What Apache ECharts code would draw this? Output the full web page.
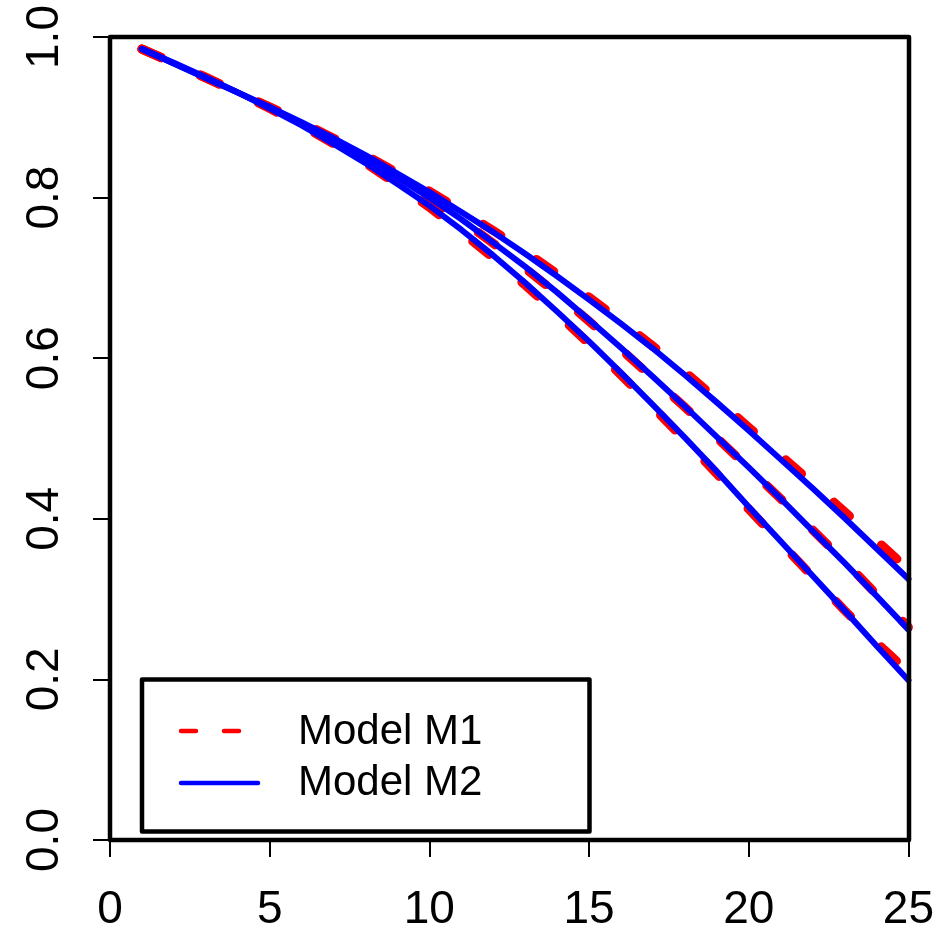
<!DOCTYPE html>
<html><head><meta charset="utf-8">
<script src="https://cdn.jsdelivr.net/npm/echarts@6/dist/echarts.min.js"></script>
<style>html,body{margin:0;padding:0;background:#fff}#c{width:937px;height:941px}</style>
</head><body><div id="c"></div>
<script>
// ---- data ----
const timePoints = [1,2,3,4,5,6,7,8,9,10,11,12,13,14,15,16,17,18,19,20,21,22,23,24,25];
const m1Top = [0.985,0.967,0.949,0.931,0.913,0.894,0.874,0.853,0.831,0.808,0.784,0.759,0.733,0.705,0.676,0.646,0.615,0.583,0.549,0.514,0.479,0.444,0.409,0.373,0.337];
const m1Mid = [0.985,0.967,0.949,0.931,0.912,0.892,0.871,0.849,0.825,0.799,0.772,0.743,0.712,0.680,0.646,0.611,0.575,0.539,0.501,0.463,0.425,0.386,0.347,0.306,0.265];
const m1Bot = [0.985,0.968,0.950,0.931,0.911,0.890,0.867,0.843,0.816,0.788,0.757,0.725,0.691,0.655,0.618,0.579,0.539,0.498,0.456,0.412,0.370,0.328,0.286,0.246,0.209];
const m2Top = [0.985,0.967,0.949,0.931,0.913,0.894,0.874,0.853,0.830,0.807,0.782,0.757,0.730,0.702,0.673,0.643,0.612,0.579,0.545,0.510,0.474,0.438,0.401,0.363,0.325];
const m2Mid = [0.985,0.967,0.949,0.931,0.912,0.892,0.871,0.849,0.825,0.800,0.773,0.744,0.714,0.682,0.648,0.613,0.577,0.540,0.502,0.464,0.425,0.385,0.345,0.304,0.262];
const m2Bot = [0.985,0.968,0.950,0.931,0.911,0.890,0.867,0.843,0.817,0.790,0.760,0.728,0.694,0.658,0.621,0.582,0.542,0.501,0.459,0.415,0.372,0.329,0.286,0.242,0.199];
const xTicks = [0,5,10,15,20,25];
const yTicks = [0.0,0.2,0.4,0.6,0.8,1.0];
const legendNames = ['Model M1','Model M2'];

// ---- layout ----
const W = 937, H = 941;
const G = {left:110, right:28, top:37, bottom:101};
const FONT = 'Liberation Sans, Arial, Helvetica, sans-serif';
const RED = '#ff0000', BLUE = '#0000ff';

function pairs(ys){ return timePoints.map((t,i)=>[t, ys[i]]); }

function m1Series(ys){
  return {type:'line', name:legendNames[0], data:pairs(ys), symbol:'none', smooth:false, clip:false,
    lineStyle:{color:RED, width:9, type:[21,43], cap:'round', join:'round'}, z:2};
}
function m2Series(ys){
  return {type:'line', name:legendNames[1], data:pairs(ys), symbol:'none', smooth:false, clip:false,
    lineStyle:{color:BLUE, width:6, type:'solid', cap:'round', join:'round'}, z:3};
}

const chart = echarts.init(document.getElementById('c'), null, {renderer:'canvas', width:W, height:H});
const plotW = W - G.left - G.right, plotH = H - G.top - G.bottom;

const option = {
  animation:false,
  backgroundColor:'#ffffff',
  grid:{left:G.left, right:G.right, top:G.top, bottom:G.bottom, show:false, containLabel:false},
  xAxis:{type:'value', min:xTicks[0], max:xTicks[xTicks.length-1], interval:5,
    axisLine:{show:true, onZero:false, lineStyle:{color:'#000', width:2}},
    axisTick:{show:true, inside:false, length:17, lineStyle:{color:'#000', width:2}},
    axisLabel:{show:true, fontSize:46, fontFamily:FONT, color:'#000', margin:47, showMinLabel:true, showMaxLabel:true, hideOverlap:false},
    splitLine:{show:false}},
  yAxis:{type:'value', min:yTicks[0], max:yTicks[yTicks.length-1], interval:0.2,
    axisLine:{show:true, onZero:false, lineStyle:{color:'#000', width:2}},
    axisTick:{show:true, inside:false, length:17, lineStyle:{color:'#000', width:2}},
    axisLabel:{show:true, rotate:90, fontSize:46, fontFamily:FONT, color:'#000', margin:42,
      formatter:v=>v.toFixed(1), showMinLabel:true, showMaxLabel:true, hideOverlap:false},
    splitLine:{show:false}},
  series:[m1Series(m1Top), m1Series(m1Mid), m1Series(m1Bot), m2Series(m2Top), m2Series(m2Mid), m2Series(m2Bot)],
  graphic:[
    {type:'rect', z:100, silent:true, shape:{x:G.left, y:G.top, width:plotW, height:plotH},
      style:{fill:null, stroke:'#000', lineWidth:4.5, lineJoin:'round'}},
    {type:'rect', z:100, silent:true, shape:{x:142, y:679.5, width:447.5, height:152},
      style:{fill:'#fff', stroke:'#000', lineWidth:4.5, lineJoin:'round'}},
    {type:'line', z:101, silent:true, shape:{x1:181, y1:731, x2:258, y2:731},
      style:{stroke:RED, lineWidth:4.5, lineCap:'round', lineDash:[15,28]}},
    {type:'line', z:101, silent:true, shape:{x1:181, y1:783, x2:258, y2:783},
      style:{stroke:BLUE, lineWidth:4.5, lineCap:'round'}},
    {type:'text', z:101, silent:true, x:298, y:732,
      style:{text:legendNames[0], font:'42px ' + FONT, fill:'#000', textAlign:'left', textVerticalAlign:'middle'}},
    {type:'text', z:101, silent:true, x:298, y:783,
      style:{text:legendNames[1], font:'42px ' + FONT, fill:'#000', textAlign:'left', textVerticalAlign:'middle'}}
  ]
};
chart.setOption(option);
</script>
</body></html>
